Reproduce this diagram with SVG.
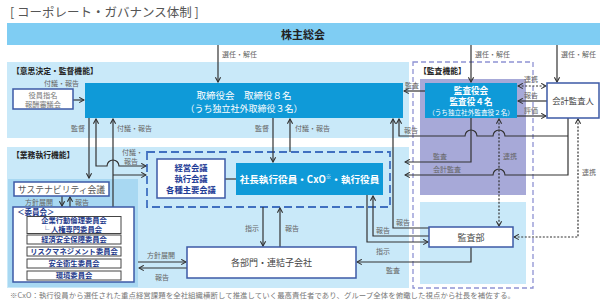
<svg xmlns="http://www.w3.org/2000/svg" width="606" height="304" viewBox="0 0 606 304">
<defs>
<marker id="a" viewBox="0 0 8 8" refX="7" refY="4" markerWidth="7" markerHeight="7" markerUnits="userSpaceOnUse" orient="auto-start-reverse"><path d="M1.5,1 L7,4 L1.5,7" fill="none" stroke="#333" stroke-width="1.3"/></marker>
</defs>
<style>
text{font-family:'Noto Sans CJK JP','Noto Sans',sans-serif}
.l{font-size:7px;fill:#666}
.c{stroke:#333;stroke-width:1.2;fill:none}
.d{stroke-dasharray:2 1.6}
.wb{fill:#fff;stroke:#3c5aa6;stroke-width:1.5}
.bb{fill:#0f9ad8}
.wt{fill:#fff;text-anchor:middle}
.gt{fill:#444;text-anchor:middle}
.cm{fill:#fff;stroke:#444;stroke-width:1}
.ct{fill:#1e3a8c;font-weight:bold;font-size:7.3px;text-anchor:middle}
.h{font-weight:bold;fill:#222;font-size:7.8px}
.mt{font-size:8.3px;font-weight:bold;fill:#1e3c96;text-anchor:middle}
</style>
<rect width="606" height="304" fill="#fff"/>
<text x="10" y="17" font-size="12.5" fill="#555">[ コーポレート・ガバナンス体制 ]</text>
<g id="bands">
<rect x="7" y="62" width="402" height="76" fill="#c9e9f9"/>
<rect x="7" y="147" width="402" height="141" fill="#c9e9f9"/>
<rect x="420" y="79" width="106" height="116" fill="#a7a9d8"/>
<rect x="420" y="202" width="106" height="82" fill="#c9e9f9"/>
<rect x="413" y="62" width="120" height="226" fill="none" stroke="#8e92d3" stroke-width="1.3" stroke-dasharray="5 3"/>
<rect x="8" y="179" width="130" height="108" fill="#a8d8f2"/>
<rect x="147" y="152" width="243" height="55" fill="none" stroke="#4070c0" stroke-width="1.8" stroke-dasharray="8 4"/>
<text class="h" x="12" y="74">【意思決定・監督機能】</text>
<text class="h" x="12" y="158">【業務執行機能】</text>
<text class="h" x="419" y="74">【監査機能】</text>
</g>
<g id="shareholders">
<rect x="7" y="23" width="593" height="22" fill="#7fcdf3"/>
<text x="303" y="38.5" font-size="11" font-weight="bold" fill="#222" text-anchor="middle">株主総会</text>
</g>
<g id="connectors">
<path class="c" marker-end="url(#a)" d="M218,45 V82"/>
<path class="c" marker-end="url(#a)" d="M471,45 V82"/>
<path class="c" marker-end="url(#a)" d="M557,45 V82"/>
<path class="c" marker-end="url(#a)" d="M73,100 H84"/>
<path class="c" marker-end="url(#a)" d="M425,91 H404"/>
<path class="c d" marker-start="url(#a)" marker-end="url(#a)" d="M518,86 H546"/>
<path class="c" marker-end="url(#a)" d="M547,101 H518"/>
<path class="c" marker-end="url(#a)" d="M517,116 H546"/>
<path class="c" marker-end="url(#a)" d="M89,118 V178"/>
<path class="c" marker-start="url(#a)" marker-end="url(#a)" d="M96,119 V166 H107 A6,6 0 0 1 119,166 H146"/>
<path class="c" marker-end="url(#a)" d="M113,207 V119"/>
<path class="c" marker-end="url(#a)" d="M113,175 H146"/>
<path class="c" marker-end="url(#a)" d="M273,118 V162"/>
<path class="c" marker-end="url(#a)" d="M290,152 V119"/>
<path class="c" marker-end="url(#a)" d="M429,228 H393 V119"/>
<path class="c" marker-end="url(#a)" d="M568,136 H505 A6,6 0 0 0 493,136 H477 A6,6 0 0 0 465,136 H399 V119"/>
<path class="c" marker-end="url(#a)" d="M568,118 V175 H505 A6,6 0 0 0 493,175 H405"/>
<path class="c" marker-end="url(#a)" d="M471,118 V162 H405"/>
<path class="c d" marker-start="url(#a)" marker-end="url(#a)" d="M499,119 V226"/>
<path class="c d" marker-start="url(#a)" marker-end="url(#a)" d="M578,119 V237 H514"/>
<path class="c" marker-end="url(#a)" d="M367,195 V242 H428"/>
<path class="c" marker-end="url(#a)" d="M429,236 H373 V196"/>
<path class="c" marker-end="url(#a)" d="M471,247 V262 H357"/>
<path class="c" marker-end="url(#a)" d="M263,207 V246"/>
<path class="c" marker-end="url(#a)" d="M280,247 V208"/>
<path class="c" marker-end="url(#a)" d="M62,196 V206"/>
<path class="c" marker-end="url(#a)" d="M70,207 V197"/>
<path class="c" marker-end="url(#a)" d="M138,262 H186"/>
<path class="c" marker-end="url(#a)" d="M187,268 H139"/>
<path class="c" d="M225,179 H236"/>
<text class="l" x="222" y="57">選任・解任</text>
<text class="l" x="475" y="57">選任・解任</text>
<text class="l" x="561" y="57">選任・解任</text>
<text class="l" x="44" y="86">付議・報告</text>
<text class="l" x="71" y="131">監督</text>
<text class="l" x="117" y="131">付議・報告</text>
<text class="l" x="255" y="131">監督</text>
<text class="l" x="295" y="131">付議・報告</text>
<text class="l" x="405" y="88">監査</text>
<text class="l" x="524" y="82">連携</text>
<text class="l" x="524" y="98">報告</text>
<text class="l" x="524" y="113">評価</text>
<text class="l" x="404" y="133">報告</text>
<text class="l" x="433" y="159">監査</text>
<text class="l" x="503" y="159">連携</text>
<text class="l" x="433" y="172">会計監査</text>
<text class="l" x="582" y="175">連携</text>
<text class="l" x="122" y="155">付議・</text>
<text class="l" x="124" y="164">報告</text>
<text class="l" x="25" y="205">方針展開</text>
<text class="l" x="75" y="205">報告</text>
<text class="l" x="245" y="231">指示</text>
<text class="l" x="285" y="231">報告</text>
<text class="l" x="396" y="225">報告</text>
<text class="l" x="376" y="233">報告</text>
<text class="l" x="376" y="254">指示</text>
<text class="l" x="386" y="273">監査</text>
<text class="l" x="147" y="258">方針展開</text>
<text class="l" x="155" y="280">報告</text>
</g>
<g id="board">
<rect class="bb" x="85" y="83" width="318" height="35"/>
<text class="wt" x="244" y="99" font-size="9.5">取締役会　取締役８名</text>
<text class="wt" x="244" y="112" font-size="9">（うち独立社外取締役３名）</text>
</g>
<g id="nomination">
<rect class="wb" x="13" y="89" width="60" height="20"/>
<text x="43" y="98" font-size="7.2" fill="#777" text-anchor="middle">役員指名</text>
<text x="43" y="107" font-size="7.2" fill="#777" text-anchor="middle">報酬審議会</text>
</g>
<g id="auditboard">
<rect class="bb" x="425" y="83" width="92" height="35"/>
<text class="wt" x="471" y="94" font-size="8.6" font-weight="bold">監査役会</text>
<text class="wt" x="471" y="105" font-size="8.6" font-weight="bold">監査役４名</text>
<text class="wt" x="471" y="115" font-size="6.6">（うち独立社外監査役２名）</text>
</g>
<g id="accountant">
<rect class="wb" x="547" y="83" width="52" height="35"/>
<text class="gt" x="573" y="104" font-size="8.3">会計監査人</text>
</g>
<g id="meetings">
<rect class="wb" x="157" y="159" width="68" height="39"/>
<text class="mt" x="191" y="171">経営会議</text>
<text class="mt" x="191" y="182">執行会議</text>
<text class="mt" x="191" y="193">各種主要会議</text>
</g>
<g id="president">
<rect class="bb" x="236" y="163" width="147" height="32"/>
<text class="wt" x="309.5" y="183" font-size="9.6" font-weight="bold">社長執行役員・CxO<tspan font-size="5.5" dy="-4">※</tspan><tspan dy="4">・執行役員</tspan></text>
</g>
<g id="sustainability">
<rect class="wb" x="14" y="182" width="95" height="14"/>
<text x="61.5" y="192.5" font-size="8.8" fill="#555" text-anchor="middle">サステナビリティ会議</text>
</g>
<g id="committees">
<rect class="wb" x="13" y="207" width="121" height="75"/>
<text x="17" y="215" font-size="7.5" font-weight="bold" fill="#1e3a8c">＜委員会＞</text>
<rect class="cm" x="27" y="216.5" width="94" height="17"/>
<text class="ct" x="74" y="223" font-size="6.5">企業行動倫理委員会</text>
<text class="ct" x="72" y="231.6" font-size="6.5">└ 人権専門委員会</text>
<rect class="cm" x="27" y="235" width="94" height="9"/>
<text class="ct" x="74" y="242.3">経済安全保障委員会</text>
<rect class="cm" x="27" y="247" width="94" height="9"/>
<text class="ct" x="74" y="254.3">リスクマネジメント委員会</text>
<rect class="cm" x="27" y="259" width="94" height="9"/>
<text class="ct" x="74" y="266.3">安全衛生委員会</text>
<rect class="cm" x="27" y="271" width="94" height="9"/>
<text class="ct" x="74" y="278.3">環境委員会</text>
</g>
<g id="departments">
<rect class="wb" x="187" y="247" width="169" height="31"/>
<text class="gt" x="271.5" y="266" font-size="9">各部門・連結子会社</text>
</g>
<g id="internalaudit">
<rect class="wb" x="429" y="227" width="84" height="20"/>
<text class="gt" x="471" y="240.5" font-size="9">監査部</text>
</g>
<text x="10" y="298" font-size="7.4" fill="#777" textLength="505">※CxO：執行役員から選任された重点経営課題を全社組織横断して推進していく最高責任者であり、グループ全体を俯瞰した視点から社長を補佐する。</text>
</svg>
